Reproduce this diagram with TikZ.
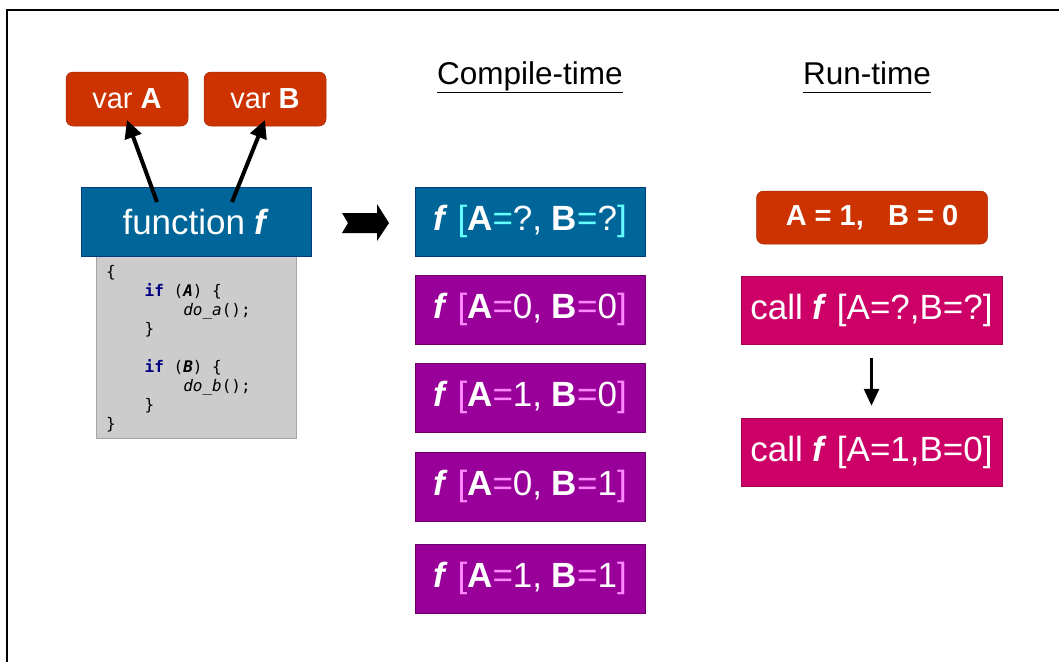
\documentclass[tikz,border=0pt]{standalone}
\usepackage{fontspec}
\setmainfont{Liberation Sans}
\newfontfamily\codefont{DejaVu Sans Mono}
\usetikzlibrary{arrows.meta}
\definecolor{redor}{HTML}{CC3300}
\definecolor{fblue}{HTML}{006699}
\definecolor{fblueb}{HTML}{003F7F}
\definecolor{fpurp}{HTML}{990099}
\definecolor{fpurpb}{HTML}{6B006B}
\definecolor{cmag}{HTML}{CC0066}
\definecolor{cyanl}{HTML}{66FFFF}
\definecolor{pinkl}{HTML}{FF88FF}
\definecolor{codegray}{HTML}{CCCCCC}
\definecolor{kwblue}{HTML}{000080}
\newcommand{\bigf}[1]{\fontsize{#1}{#1}\selectfont}
\newcommand{\ftext}[3]{\textbf{\textit{f}} \textcolor{#3}{[}\textbf{A}\textcolor{#3}{=}#1, \textbf{B}\textcolor{#3}{=}#2\textcolor{#3}{]}}
\tikzset{
  varbox/.style={draw=redor!80!black, line width=0.5pt, fill=redor, rounded corners=7pt, text=white, inner sep=0pt, font=\bigf{29}},
  fbox/.style={draw=fblueb, line width=0.8pt, fill=fblue, text=white, inner sep=0pt, font=\bigf{35}},
  pbox/.style={draw=fpurpb, line width=0.6pt, fill=fpurp, text=white, inner sep=0pt, font=\bigf{35}},
  callbox/.style={draw=cmag!80!black, line width=0.5pt, fill=cmag, text=white, inner sep=0pt, font=\bigf{35}},
  codeline/.style={anchor=base west, inner sep=0pt, font=\codefont\fontsize{16}{19}\selectfont},
  heading/.style={inner sep=0pt, font=\bigf{31.5}},
  thickarrow/.style={line width=4pt, -{Triangle[length=18pt,width=17pt]}},
  thinarrow/.style={line width=3pt, -{Triangle[length=17pt,width=15pt]}}
}
\begin{document}
\begin{tikzpicture}[x=1pt,y=-1pt]
\useasboundingbox (0,0) rectangle (1059,662);
\fill[white] (0,0) rectangle (1059,662);
% frame
\draw[line width=2pt] (7,662) -- (7,10) -- (1059,10);

% var boxes
\node[varbox, minimum width=122pt, minimum height=54pt] (varA) at (127,99) {var \textbf{A}};
\node[varbox, minimum width=122pt, minimum height=54pt] (varB) at (265,99) {var \textbf{B}};

% code box
\node[draw=gray!70, line width=1pt, fill=codegray, minimum width=200pt, minimum height=182pt, inner sep=0pt] (code) at (196,347) {};
% function f
\node[fbox, minimum width=230pt, minimum height=69pt] (func) at (196,221.5) {function \textbf{\textit{f}}};

\node[codeline] (c1) at (106,277) {\{};
\node[codeline] (c2) at (106,296) {\phantom{xxxx}\textcolor{kwblue}{\textbf{if}} (\textbf{\textit{A}}) \{};
\node[codeline] (c3) at (106,315) {\phantom{xxxxxxxx}\textit{do\_a}();};
\node[codeline] (c4) at (106,334) {\phantom{xxxx}\}};
\node[codeline] (c5) at (106,372) {\phantom{xxxx}\textcolor{kwblue}{\textbf{if}} (\textbf{\textit{B}}) \{};
\node[codeline] (c6) at (106,391) {\phantom{xxxxxxxx}\textit{do\_b}();};
\node[codeline] (c7) at (106,410) {\phantom{xxxx}\}};
\node[codeline] (c8) at (106,429) {\}};

% arrows to vars
\coordinate (fa) at (157,202);
\coordinate (fb) at (232,202);
\coordinate (ta) at (127,120);
\coordinate (tb) at (265,120);
\draw[thickarrow] (fa) -- (ta);
\draw[thickarrow] (fb) -- (tb);

% block arrow
\fill[black] (342,213) -- (377,213) -- (377,204) -- (389,223) -- (377,241) -- (377,233) -- (342,233) -- (348,223) -- cycle;

% headings
\node[heading] (ct) at (530,77) {\underline{Compile-time}};
\node[heading] (rt) at (867,77) {\underline{Run-time\vphantom{p}}};

% compile-time boxes
\node[fbox, minimum width=230pt, minimum height=69pt] (k1) at (530,221.5) {\ftext{?}{?}{cyanl}};
\node[pbox, minimum width=230pt, minimum height=69pt] (k2) at (530,309.5) {\ftext{0}{0}{pinkl}};
\node[pbox, minimum width=230pt, minimum height=69pt] (k3) at (530,397.5) {\ftext{1}{0}{pinkl}};
\node[pbox, minimum width=230pt, minimum height=69pt] (k4) at (530,486.5) {\ftext{0}{1}{pinkl}};
\node[pbox, minimum width=230pt, minimum height=69pt] (k5) at (530,578.5) {\ftext{1}{1}{pinkl}};

% run-time
\node[varbox, minimum width=231pt, minimum height=53pt, font=\bigf{29}\bfseries] (vals) at (872,217.5) {A = 1,\ \ \ B = 0};
\node[callbox, minimum width=261pt, minimum height=68pt] (call1) at (871.5,310) {call \textbf{\textit{f}} [A=?,B=?]};
\node[callbox, minimum width=261pt, minimum height=68pt] (call2) at (871.5,452) {call \textbf{\textit{f}} [A=1,B=0]};
\draw[thinarrow] ([yshift=-14pt]call1.south) -- ([yshift=12pt]call2.north);
\end{tikzpicture}
\end{document}
